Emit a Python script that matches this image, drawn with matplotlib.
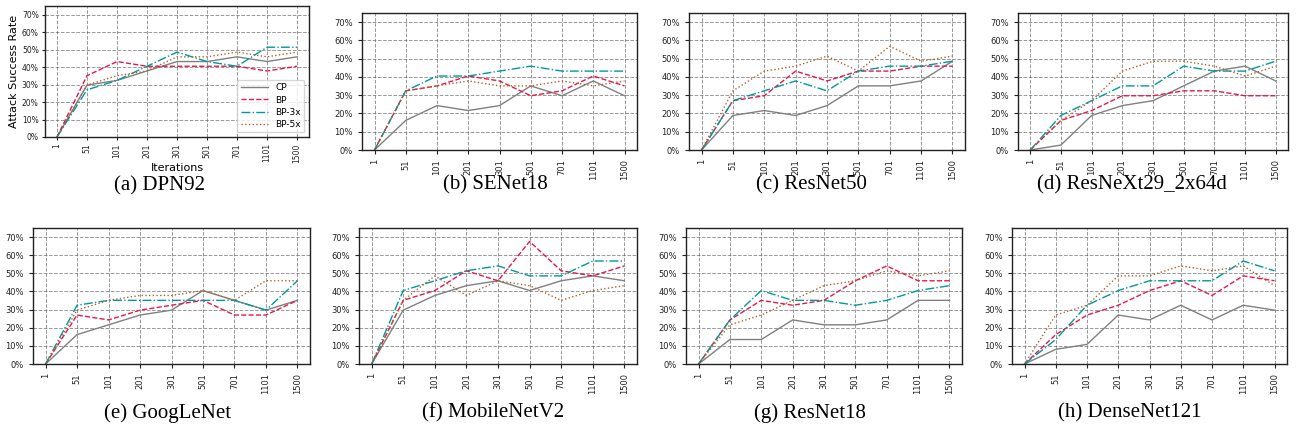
import matplotlib
matplotlib.use("Agg")
import matplotlib.pyplot as plt
from matplotlib.ticker import PercentFormatter

iterations = ["1", "51", "101", "201", "301", "501", "701", "1101", "1500"]
series = ["CP", "BP", "BP-3x", "BP-5x"]
models = ["DPN92", "SENet18", "ResNet50", "ResNeXt29_2x64d",
          "GoogLeNet", "MobileNetV2", "ResNet18", "DenseNet121"]

# attack success rate, in % (out of 37 targets)
dpn92_cp = [0, 29.7, 32.4, 37.8, 43.2, 43.2, 45.9, 43.2, 45.9]
dpn92_bp = [0, 35.1, 43.2, 40.5, 40.5, 40.5, 40.5, 37.8, 40.5]
dpn92_bp3 = [0, 27.0, 32.4, 40.5, 48.6, 43.2, 40.5, 51.4, 51.4]
dpn92_bp5 = [0, 29.7, 35.1, 37.8, 45.9, 45.9, 48.6, 45.9, 48.6]

senet_cp = [0, 16.2, 24.3, 21.6, 24.3, 35.1, 29.7, 37.8, 29.7]
senet_bp = [0, 32.4, 35.1, 40.5, 37.8, 29.7, 32.4, 40.5, 35.1]
senet_bp3 = [0, 32.4, 40.5, 40.5, 43.2, 45.9, 43.2, 43.2, 43.2]
senet_bp5 = [0, 32.4, 35.1, 37.8, 35.1, 35.1, 37.8, 35.1, 37.8]

resnet50_cp = [0, 18.9, 21.6, 18.9, 24.3, 35.1, 35.1, 37.8, 48.6]
resnet50_bp = [0, 27.0, 29.7, 43.2, 37.8, 43.2, 43.2, 45.9, 45.9]
resnet50_bp3 = [0, 27.0, 32.4, 37.8, 32.4, 43.2, 45.9, 45.9, 48.6]
resnet50_bp5 = [0, 32.4, 43.2, 45.9, 51.4, 43.2, 56.8, 48.6, 51.4]

resnext_cp = [0, 2.7, 18.9, 24.3, 27.0, 35.1, 43.2, 45.9, 37.8]
resnext_bp = [0, 16.2, 21.6, 29.7, 29.7, 32.4, 32.4, 29.7, 29.7]
resnext_bp3 = [0, 18.9, 27.0, 35.1, 35.1, 45.9, 43.2, 43.2, 48.6]
resnext_bp5 = [0, 16.2, 27.0, 43.2, 48.6, 48.6, 45.9, 40.5, 45.9]

googlenet_cp = [0, 16.2, 21.6, 27.0, 29.7, 40.5, 35.1, 29.7, 35.1]
googlenet_bp = [0, 27.0, 24.3, 29.7, 32.4, 35.1, 27.0, 27.0, 35.1]
googlenet_bp3 = [0, 32.4, 35.1, 35.1, 35.1, 35.1, 35.1, 29.7, 45.9]
googlenet_bp5 = [0, 29.7, 35.1, 37.8, 37.8, 40.5, 35.1, 45.9, 45.9]

mobilenet_cp = [0, 29.7, 37.8, 43.2, 45.9, 40.5, 45.9, 48.6, 45.9]
mobilenet_bp = [0, 35.1, 40.5, 51.4, 45.9, 67.6, 51.4, 48.6, 54.1]
mobilenet_bp3 = [0, 40.5, 45.9, 51.4, 54.1, 48.6, 48.6, 56.8, 56.8]
mobilenet_bp5 = [0, 35.1, 48.6, 37.8, 45.9, 43.2, 35.1, 40.5, 43.2]

resnet18_cp = [0, 13.5, 13.5, 24.3, 21.6, 21.6, 24.3, 35.1, 35.1]
resnet18_bp = [0, 24.3, 35.1, 32.4, 35.1, 45.9, 54.1, 45.9, 45.9]
resnet18_bp3 = [0, 24.3, 40.5, 35.1, 35.1, 32.4, 35.1, 40.5, 43.2]
resnet18_bp5 = [0, 21.6, 27.0, 35.1, 43.2, 45.9, 51.4, 48.6, 51.4]

densenet_cp = [0, 8.1, 10.8, 27.0, 24.3, 32.4, 24.3, 32.4, 29.7]
densenet_bp = [0, 16.2, 27.0, 32.4, 40.5, 45.9, 37.8, 48.6, 45.9]
densenet_bp3 = [0, 13.5, 32.4, 40.5, 45.9, 45.9, 45.9, 56.8, 51.4]
densenet_bp5 = [0, 27.0, 32.4, 48.6, 48.6, 54.1, 51.4, 54.1, 43.2]

results = [
    [dpn92_cp, dpn92_bp, dpn92_bp3, dpn92_bp5],
    [senet_cp, senet_bp, senet_bp3, senet_bp5],
    [resnet50_cp, resnet50_bp, resnet50_bp3, resnet50_bp5],
    [resnext_cp, resnext_bp, resnext_bp3, resnext_bp5],
    [googlenet_cp, googlenet_bp, googlenet_bp3, googlenet_bp5],
    [mobilenet_cp, mobilenet_bp, mobilenet_bp3, mobilenet_bp5],
    [resnet18_cp, resnet18_bp, resnet18_bp3, resnet18_bp5],
    [densenet_cp, densenet_bp, densenet_bp3, densenet_bp5],
]

colors = ["#808080", "#e8174a", "#00999a", "#b0622e"]
styles = ["-", "--", "-.", ":"]

W, H = 1296, 433

# axes boxes in pixels: left, top, right, bottom
boxes = [
    (45, 6, 309, 137),
    (362, 13, 637, 150),
    (689, 13, 965, 150),
    (1018, 13, 1288, 150),
    (33, 228, 310, 364),
    (359, 228, 637, 364),
    (686, 228, 962, 364),
    (1012, 228, 1287, 364),
]
captions_x = [160, 495, 811, 1132, 168, 493, 810, 1130]
captions_y = [186, 185, 185, 185, 413, 413, 413, 413]
letters = "abcdefgh"

fig = plt.figure(figsize=(W / 100, H / 100), dpi=100)

for i, (model, data) in enumerate(zip(models, results)):
    l, t, r, b = boxes[i]
    ax = fig.add_axes([l / W, 1 - b / H, (r - l) / W, (b - t) / H])
    x = range(len(iterations))
    for name, vals, c, ls in zip(series, data, colors, styles):
        ax.plot(x, [v / 100 for v in vals], color=c, linestyle=ls,
                linewidth=1.0, label=name)
    ax.set_ylim(0, 0.75)
    ax.set_xticks(list(x))
    ax.set_xticklabels(iterations, rotation=90)
    ax.set_yticks([k / 10 for k in range(8)])
    ax.yaxis.set_major_formatter(PercentFormatter(1.0, decimals=0))
    ax.tick_params(labelsize=6, length=3, width=0.8, colors="#222222")
    ax.grid(True, linestyle="--", color="#555555", alpha=0.6, linewidth=0.7)
    for s in ax.spines.values():
        s.set_linewidth(1.0)
        s.set_color("#222222")
    if i == 0:
        ax.tick_params(labelsize=5.5, length=2.5, pad=2)
        ax.set_ylabel("Attack Success Rate", fontsize=8, labelpad=2)
        ax.set_xlabel("Iterations", fontsize=8, labelpad=0)
        ax.legend(loc="lower right", fontsize=6.5, handlelength=3,
                  labelspacing=0.35, borderpad=0.4)
    fig.text(captions_x[i] / W, 1 - captions_y[i] / H,
             "(%s) %s" % (letters[i], model), ha="center", va="center",
             fontsize=15, family="Liberation Serif")

fig.savefig("out.png", dpi=100)
